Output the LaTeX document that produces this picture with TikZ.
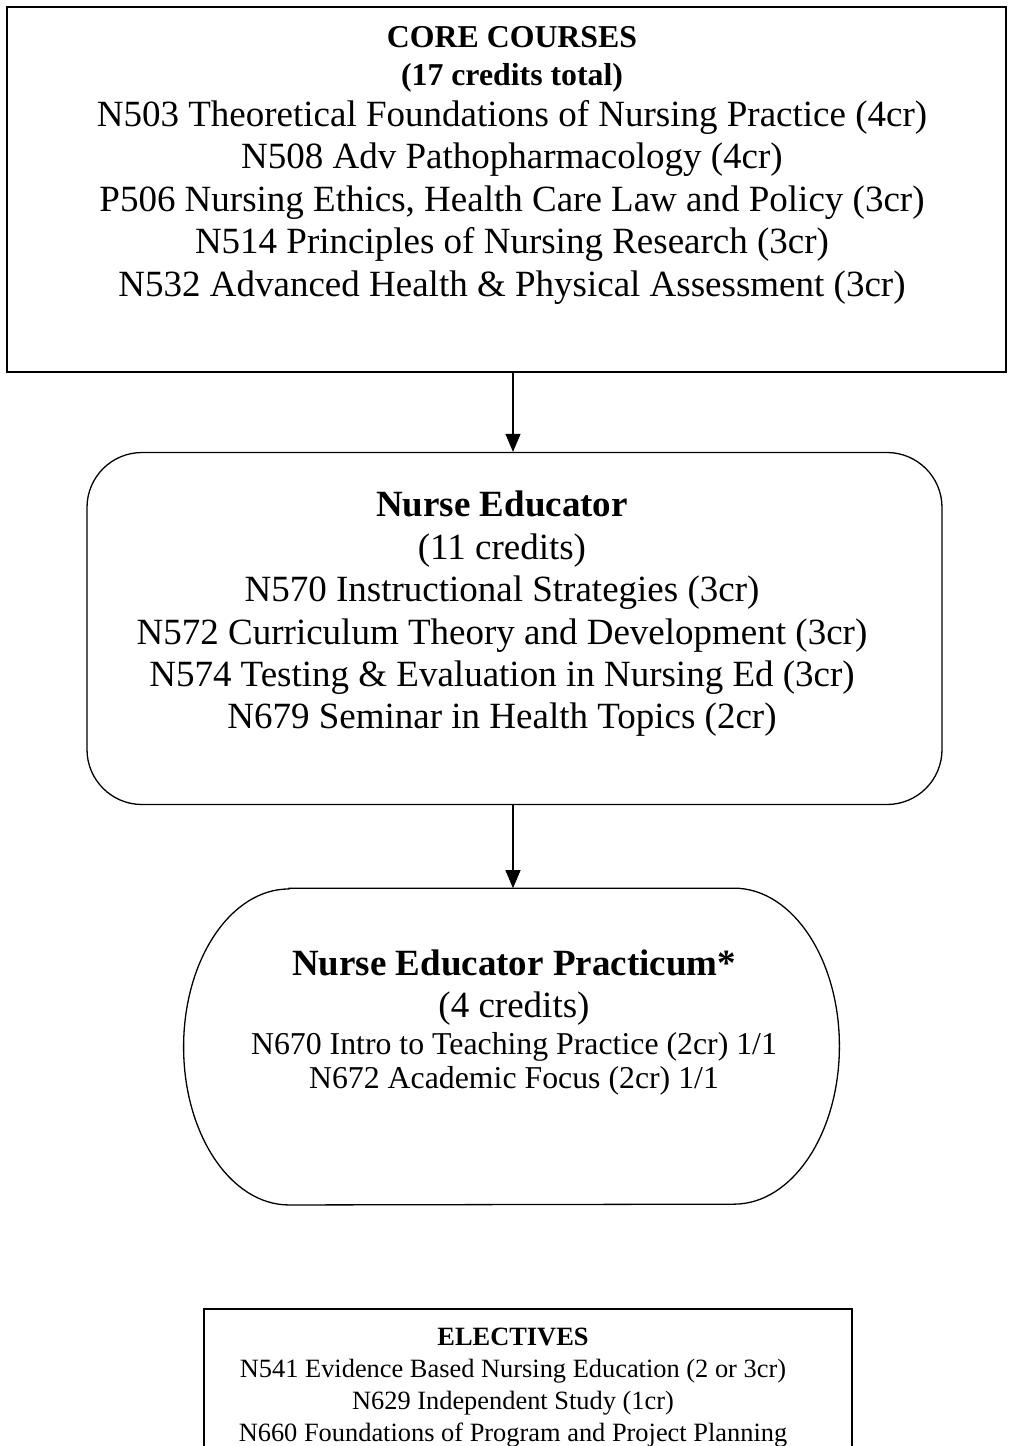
\documentclass[tikz,border=0pt]{standalone}
\usepackage{fontspec}
\setmainfont{Liberation Serif}
\usetikzlibrary{positioning,arrows.meta}
\newcommand{\bigSize}{\fontsize{18.5}{21.2}\selectfont}
\newcommand{\midSize}{\fontsize{15.9}{18.3}\selectfont}
\newcommand{\smallSize}{\fontsize{13.2}{16}\selectfont}
\tikzset{
  coreBox/.style={draw, inner sep=0pt, line width=0.85pt, minimum width=499.5pt, minimum height=182.5pt},
  trackBox/.style={draw, inner sep=0pt, line width=0.65pt, rounded corners=27.5pt, minimum width=427.5pt, minimum height=176pt},
  practShape/.style={inner sep=0pt, minimum width=327.5pt, minimum height=158pt},
  practLine/.style={line width=0.65pt},
  electBox/.style={draw, inner sep=0pt, line width=0.8pt, minimum width=324pt, minimum height=110pt},
  listText/.style={inner sep=0pt, align=center, font=\bigSize},
  flow/.style={-{Triangle[width=7.5pt, length=9pt]}, line width=0.6pt}
}
\begin{document}
\begin{tikzpicture}
  \useasboundingbox (0,0) rectangle (504pt,-723pt);
  \clip (0,0) rectangle (504pt,-723pt);
  \coordinate (spine) at (256.5pt,0);

  % boxes
  \node[coreBox] (core) at (253.25pt,-94.75pt) {};
  \node[trackBox, below=39.5pt of core, xshift=4pt] (edu) {};
  \node[practShape, below=41.5pt of edu, xshift=-1.5pt] (pract) {};
  \node[electBox, below=51.5pt of pract, xshift=8.25pt, anchor=north] (elect) {};
  \draw[practLine] ([xshift=52.7pt]pract.north west) -- ([xshift=-52.7pt]pract.north east)
    arc[start angle=90, end angle=-90, x radius=52.7pt, y radius=79pt]
    -- ([xshift=52.7pt]pract.south west)
    arc[start angle=270, end angle=90, x radius=52.7pt, y radius=79pt] -- cycle;

  % texts
  \node[listText, below=10pt of core.north, xshift=2.75pt] (coreText) {%
    {\midSize\bfseries CORE COURSES}\\[-2.2pt]
    {\midSize\bfseries (17 credits total)}\\[-0.8pt]
    N503 Theoretical Foundations of Nursing Practice (4cr)\\
    N508 Adv Pathopharmacology (4cr)\\
    P506 Nursing Ethics, Health Care Law and Policy (3cr)\\
    N514 Principles of Nursing Research (3cr)\\
    N532 Advanced Health \& Physical Assessment (3cr)};
  \node[listText, below=19.5pt of edu.north, xshift=-6.25pt] (eduText) {%
    {\bfseries Nurse Educator}\\
    (11 credits)\\
    N570 Instructional Strategies (3cr)\\
    N572 Curriculum Theory and Development (3cr)\\
    N574 Testing \& Evaluation in Nursing Ed (3cr)\\
    N679 Seminar in Health Topics (2cr)};
  \node[listText, below=30.5pt of pract.north, xshift=1.25pt] (practText) {%
    {\bfseries Nurse Educator Practicum*}\\
    (4 credits)\\[-2.55pt]
    {\midSize N670 Intro to Teaching Practice (2cr) 1/1}\\[-4.2pt]
    {\midSize N672 Academic Focus (2cr) 1/1}};
  \node[listText, font=\smallSize, below=9.7pt of elect.north, xshift=-7.5pt] (electText) {%
    {\bfseries ELECTIVES}\\
    N541 Evidence Based Nursing Education (2 or 3cr)\\
    N629 Independent Study (1cr)\\
    N660 Foundations of Program and Project Planning};

  \draw[flow] (core.south -| spine) -- (edu.north -| spine);
  \draw[flow] (edu.south -| spine) -- (pract.north -| spine);
\end{tikzpicture}
\end{document}
